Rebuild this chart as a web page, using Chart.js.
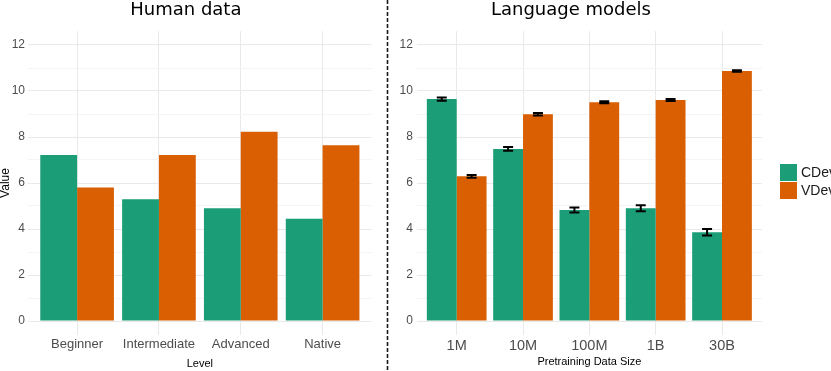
<!DOCTYPE html>
<html>
<head>
<meta charset="utf-8">
<script src="https://cdn.jsdelivr.net/npm/chart.js@4.4.1/dist/chart.umd.min.js"></script>
<style>
  body { margin: 0; background: #fff; }
  #wrap { position: relative; width: 831px; height: 371px; overflow: hidden; }
  #left { position: absolute; left: 0; top: 0; }
  #right { position: absolute; left: 380px; top: 0; }
  #sep { position: absolute; left: 0; top: 0; pointer-events: none; }
  .leg { position: absolute; left: 780px; height: 17px; line-height: 17px; padding-left: 21px;
         font: 14px 'Liberation Sans', Arial, sans-serif; color: #1a1a1a; white-space: nowrap; }
  .leg i { position: absolute; left: 0; top: 0; width: 17px; height: 17px; }
</style>
</head>
<body>
<div id="wrap">
  <canvas id="left" width="376" height="371"></canvas>
  <canvas id="right" width="451" height="371"></canvas>
  <svg id="sep" width="831" height="371">
    <line x1="387.5" y1="0" x2="387.5" y2="371" stroke="#1a1a1a" stroke-width="1.6" stroke-dasharray="4 2"/>
  </svg>
  <div id="legend"></div>
</div>
<script>
// series
const seriesNames = ['CDev', 'VDev'];
const seriesColors = ['#1b9e77', '#d95f02'];

// left panel: human data
const levels = ['Beginner', 'Intermediate', 'Advanced', 'Native'];
const humanCDev = [7.22, 5.29, 4.90, 4.45];
const humanVDev = [5.80, 7.22, 8.23, 7.64];

// right panel: language models
const sizes = ['1M', '10M', '100M', '1B', '30B'];
const lmCDev = [9.65, 7.48, 4.83, 4.90, 3.86];
const lmVDev = [6.29, 8.99, 9.51, 9.61, 10.87];
const lmCDevErr = [0.07, 0.08, 0.11, 0.13, 0.14];
const lmVDevErr = [0.06, 0.05, 0.04, 0.04, 0.03];

const yTicks = [0, 1, 2, 3, 4, 5, 6, 7, 8, 9, 10, 11, 12];

Chart.defaults.font.family = "'Liberation Sans', Arial, sans-serif";
Chart.defaults.animation = false;

const majorGrid = '#e9e9e9';
const minorGrid = '#f4f4f4';

const errorBars = {
  id: 'errorBars',
  afterDatasetsDraw(chart) {
    const ctx = chart.ctx;
    const y = chart.scales.y;
    chart.data.datasets.forEach((ds, i) => {
      if (!ds.errors) return;
      const meta = chart.getDatasetMeta(i);
      meta.data.forEach((bar, j) => {
        const v = ds.data[j].y, e = ds.errors[j];
        const top = y.getPixelForValue(v + e), bot = y.getPixelForValue(v - e);
        ctx.save();
        ctx.strokeStyle = '#000';
        ctx.lineWidth = 2;
        ctx.beginPath();
        ctx.moveTo(bar.x, top); ctx.lineTo(bar.x, bot);
        ctx.moveTo(bar.x - 5, top); ctx.lineTo(bar.x + 5, top);
        ctx.moveTo(bar.x - 5, bot); ctx.lineTo(bar.x + 5, bot);
        ctx.stroke();
        ctx.restore();
      });
    });
  }
};

function makeDataset(i, vals, errs) {
  const ds = {
    label: seriesNames[i],
    data: vals.map((v, k) => ({ x: k, y: v })),
    backgroundColor: seriesColors[i],
    borderWidth: 0,
    categoryPercentage: 0.9,
    barPercentage: 1
  };
  if (errs) ds.errors = errs;
  return ds;
}

function makeChart(id, opts) {
  const n = opts.cats.length;
  return new Chart(document.getElementById(id), {
    type: 'bar',
    data: { datasets: opts.datasets },
    plugins: [errorBars],
    options: {
      responsive: false,
      devicePixelRatio: 1,
      layout: { padding: { left: 0, right: opts.padRight, top: 0, bottom: 0 } },
      plugins: {
        legend: { display: false },
        tooltip: { enabled: false },
        title: {
          display: true,
          text: opts.title,
          color: '#000',
          font: { family: "'DejaVu Sans'", size: 18, weight: 'normal', lineHeight: 1 },
          padding: { top: 1.5, bottom: 11.7 }
        }
      },
      scales: {
        x: {
          type: 'linear',
          min: -0.6,
          max: n - 0.4,
          offset: false,
          afterBuildTicks: s => { s.ticks = opts.cats.map((c, k) => ({ value: k })); },
          afterFit: s => { s.height = 36.2; },
          ticks: {
            autoSkip: false,
            maxRotation: 0,
            padding: 2,
            color: '#4d4d4d',
            font: { size: opts.xFont },
            callback: v => opts.cats[v]
          },
          grid: { color: majorGrid, lineWidth: 1, drawTicks: false, offset: false },
          border: { display: false },
          title: {
            display: true,
            text: opts.xTitle,
            color: '#000',
            font: { size: 11 },
            padding: { top: 0, bottom: opts.xTitlePad }
          }
        },
        y: {
          min: -0.6,
          max: 12.6,
          afterBuildTicks: s => { s.ticks = yTicks.map(v => ({ value: v })); },
          afterFit: s => { s.width = opts.yWidth; },
          ticks: {
            padding: opts.yPad,
            color: '#4d4d4d',
            font: { size: 12 },
            callback: v => (v % 2 === 0 ? v : '')
          },
          grid: {
            drawTicks: false,
            color: c => (c.tick && c.tick.value % 2 ? minorGrid : majorGrid),
            lineWidth: 1
          },
          border: { display: false },
          title: {
            display: !!opts.yTitle,
            text: opts.yTitle || '',
            color: '#000',
            font: { size: 12, lineHeight: 1 },
            padding: 0
          }
        }
      }
    }
  });
}

makeChart('left', {
  title: 'Human data',
  cats: levels,
  datasets: [makeDataset(0, humanCDev), makeDataset(1, humanVDev)],
  padRight: 4.3,
  xFont: 13,
  xTitle: 'Level',
  xTitlePad: 0.5,
  yTitle: 'Value',
  yWidth: 28,
  yPad: 3
});

makeChart('right', {
  title: 'Language models',
  cats: sizes,
  datasets: [makeDataset(0, lmCDev, lmCDevErr), makeDataset(1, lmVDev, lmVDevErr)],
  padRight: 69.2,
  xFont: 14.5,
  xTitle: 'Pretraining Data Size',
  xTitlePad: 2,
  yWidth: 36.9,
  yPad: 4
});

// legend
const leg = document.getElementById('legend');
seriesNames.forEach((name, i) => {
  const d = document.createElement('div');
  d.className = 'leg';
  d.style.top = (164 + i * 18) + 'px';
  d.innerHTML = '<i style="background:' + seriesColors[i] + '"></i>' + name;
  leg.appendChild(d);
});
</script>
</body>
</html>
